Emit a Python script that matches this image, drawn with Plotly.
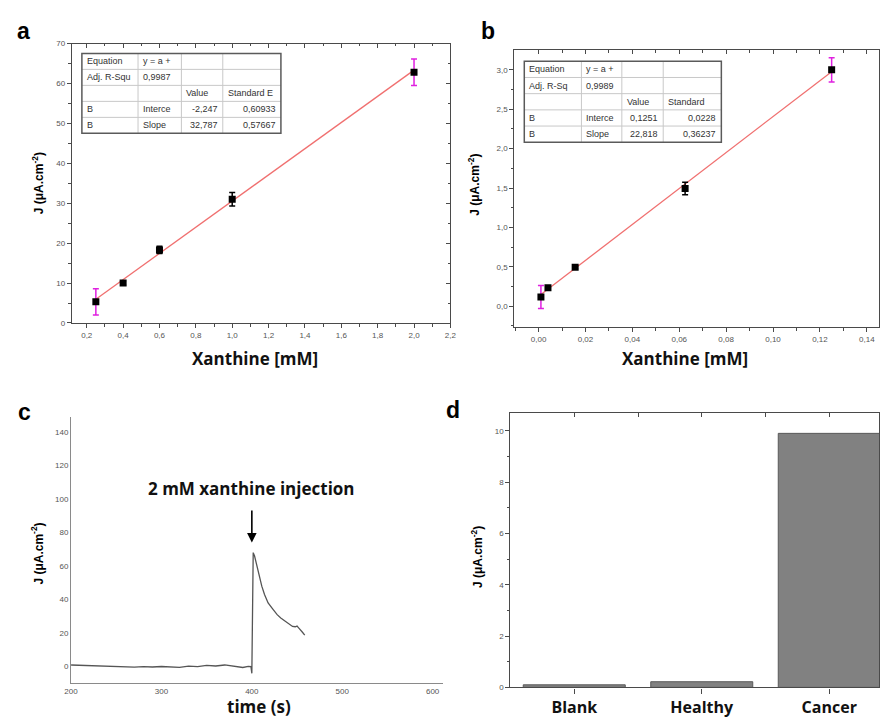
import plotly.graph_objects as go

# ---- panel a: calibration, 0.25-2 mM xanthine ----
a_conc = [0.25, 0.4, 0.6, 1.0, 2.0]
a_j = [5.3, 10.0, 18.3, 31.0, 62.8]
a_err = [3.3, 0.5, 0.9, 1.7, 3.3]
a_err_col = ["#e020e0", "black", "black", "black", "#e020e0"]
a_intercept, a_slope = -2.247, 32.787
a_table = [
    ["Equation", "y = a +", "", ""],
    ["Adj. R-Squ", "0,9987", "", ""],
    ["", "", "Value", "Standard E"],
    ["B", "Interce", "-2,247", "0,60933"],
    ["B", "Slope", "32,787", "0,57667"],
]

# ---- panel b: calibration, low concentrations ----
b_conc = [0.001, 0.004, 0.0156, 0.0625, 0.125]
b_j = [0.117, 0.235, 0.495, 1.495, 3.0]
b_err = [0.145, 0.02, 0.02, 0.08, 0.155]
b_err_col = ["#e020e0", "black", "black", "black", "#e020e0"]
b_intercept, b_slope = 0.1251, 22.818
b_table = [
    ["Equation", "y = a +", "", ""],
    ["Adj. R-Sq", "0,9989", "", ""],
    ["", "", "Value", "Standard"],
    ["B", "Interce", "0,1251", "0,0228"],
    ["B", "Slope", "22,818", "0,36237"],
]

# ---- panel c: amperometric response ----
c_time = [200, 210, 220, 230, 240, 250, 260, 270, 280, 290, 300, 310, 320, 330,
          340, 350, 360, 370, 380, 390, 396, 399, 400, 401.5, 403, 405, 408, 411,
          414, 418, 423, 428, 432, 437, 441, 445, 448, 450, 452, 454, 456, 458.5]
c_j = [1.0, 0.8, 0.9, 0.5, 0.3, 0.2, 0.0, -0.3, 0.0, -0.2, 0.1, 0.0, -0.4, 0.3,
       0.0, 0.8, 0.4, 1.0, 0.3, -0.5, 0.2, 0.0, -4.0, 68.0, 66.0, 61.0, 54.5, 48.0,
       43.0, 38.0, 34.5, 31.0, 29.0, 27.0, 25.3, 24.0, 23.8, 24.2, 23.0, 22.0, 20.5, 18.8]

# ---- panel d: samples ----
d_samples = ["Blank", "Healthy", "Cancer"]
d_j = [0.1, 0.22, 9.9]

W, H = 885, 722
SANS = "Liberation Sans, Arial"
BOLD = "Open Sans"
TICKFONT = dict(family=SANS, size=8, color="#555")
FRAME = "#4a4a4a"


def px(x0, x1):
    return [x0 / W, x1 / W]


def py(top, bottom):
    return [(H - bottom) / H, (H - top) / H]


fig = go.Figure()

# panel a
a_fit_x = [a_conc[0], a_conc[-1]]
fig.add_trace(go.Scatter(x=a_fit_x, y=[a_intercept + a_slope * v for v in a_fit_x],
                         mode="lines", line=dict(color="#f07070", width=1.3),
                         xaxis="x", yaxis="y", showlegend=False))
for xv, yv, ev, col in zip(a_conc, a_j, a_err, a_err_col):
    fig.add_trace(go.Scatter(x=[xv], y=[yv], mode="markers",
                             marker=dict(symbol="square", size=7, color="black"),
                             error_y=dict(type="data", array=[ev], color=col,
                                          thickness=1.5, width=3),
                             xaxis="x", yaxis="y", showlegend=False))

# panel b
b_fit_x = [b_conc[0], b_conc[-1]]
fig.add_trace(go.Scatter(x=b_fit_x, y=[b_intercept + b_slope * v for v in b_fit_x],
                         mode="lines", line=dict(color="#f07070", width=1.3),
                         xaxis="x2", yaxis="y2", showlegend=False))
for xv, yv, ev, col in zip(b_conc, b_j, b_err, b_err_col):
    fig.add_trace(go.Scatter(x=[xv], y=[yv], mode="markers",
                             marker=dict(symbol="square", size=7, color="black"),
                             error_y=dict(type="data", array=[ev], color=col,
                                          thickness=1.5, width=3),
                             xaxis="x2", yaxis="y2", showlegend=False))

# panel c
fig.add_trace(go.Scatter(x=c_time, y=c_j, mode="lines",
                         line=dict(color="#555", width=1.3),
                         xaxis="x3", yaxis="y3", showlegend=False))

# panel d
fig.add_trace(go.Bar(x=list(range(len(d_samples))), y=d_j, width=0.8,
                     marker=dict(color="#818181", line=dict(color="#5a5a5a", width=1)),
                     xaxis="x4", yaxis="y4", showlegend=False))

# placeholder traces so the top/right frame axes get drawn
for xa, ya in [("x5", "y"), ("x", "y5"), ("x6", "y2"), ("x7", "y4")]:
    fig.add_trace(go.Scatter(x=[None], y=[None], mode="markers", xaxis=xa, yaxis=ya,
                             showlegend=False, hoverinfo="skip"))


def main_axis(dom, anchor, rng, dtick, fmt, minor_dtick, ticks="outside"):
    ax = dict(domain=dom, anchor=anchor, range=rng, dtick=dtick, tickformat=fmt,
              showgrid=False, zeroline=False, showline=True, mirror=True,
              linecolor=FRAME, linewidth=1.3, ticks=ticks, ticklen=4,
              tickcolor=FRAME, tickwidth=1, tickfont=TICKFONT)
    if minor_dtick:
        ax["minor"] = dict(dtick=minor_dtick, ticks=ticks, ticklen=2.5,
                           tickcolor=FRAME, showgrid=False)
    return ax


def inner_axis(base, anchor, side, rng, dtick, minor_dtick, tick0=None):
    ax = dict(overlaying=base, anchor=anchor, side=side, range=rng, dtick=dtick,
              showgrid=False, zeroline=False, showline=False,
              ticks="inside", ticklen=4, tickcolor=FRAME,
              showticklabels=False, fixedrange=True)
    if tick0 is not None:
        ax["tick0"] = tick0
    if minor_dtick:
        ax["minor"] = dict(dtick=minor_dtick, ticks="inside", ticklen=2.5,
                           tickcolor=FRAME, showgrid=False)
    return ax


a_xr, a_yr = [0.119, 2.2], [0, 70]
b_xr, b_yr = [-0.0103, 0.1452], [-0.263, 3.247]
c_xr, c_yr = [200, 612], [-10, 149]
d_xr, d_yr = [-0.5, 2.39], [0, 10.7]

layout = dict(
    width=W, height=H, margin=dict(l=0, r=0, t=0, b=0),
    paper_bgcolor="white", plot_bgcolor="rgba(0,0,0,0)",
    separators=", ", showlegend=False,
    xaxis=main_axis(px(66, 450), "y", a_xr, 0.2, ".1f", 0.1),
    yaxis=main_axis(py(40, 323), "x", a_yr, 10, "d", 5),
    xaxis2=main_axis(px(515, 885), "y2", b_xr, 0.02, ".2f", 0.01),
    yaxis2=main_axis(py(47, 327), "x2", b_yr, 0.5, ".1f", 0.25),
    xaxis3=dict(domain=px(65, 443), anchor="y3", range=c_xr, dtick=100,
                showgrid=False, zeroline=False, showline=True, linecolor="#8a8a8a",
                linewidth=1.2, ticks="", tickfont=TICKFONT),
    yaxis3=dict(domain=py(418, 688), anchor="x3", range=c_yr, dtick=20,
                showgrid=False, zeroline=False, showline=True, linecolor="#8a8a8a",
                linewidth=1.2, ticks="", tickfont=TICKFONT),
    xaxis4=dict(domain=px(511, 885), anchor="y4", range=d_xr,
                tickvals=list(range(len(d_samples))),
                ticktext=[f"<b>{s}</b>" for s in d_samples], showgrid=False,
                zeroline=False, showline=True, mirror=True, linecolor=FRAME,
                linewidth=1.3, ticks="outside", ticklen=5, tickcolor=FRAME,
                tickfont=dict(family=BOLD, size=16, color="#111")),
    yaxis4=main_axis(py(414, 692), "x4", d_yr, 2, "d", 1),
    # inward ticks along the top/right frame edges
    xaxis5=inner_axis("x", "y", "top", a_xr, 0.2, 0.1),
    yaxis5=inner_axis("y", "x", "right", a_yr, 10, 5),
    xaxis6=inner_axis("x2", "y2", "top", b_xr, 0.02, 0.01),
    xaxis7=inner_axis("x4", "y4", "top", d_xr, 0.5, None, tick0=0),
)
fig.update_layout(**layout)

annotations = []


def note(text, x, y, size, family, angle=0, xanchor="center", color="black"):
    return dict(text=text, x=x / W, y=(H - y) / H, xref="paper", yref="paper",
                xanchor=xanchor, yanchor="middle", showarrow=False,
                textangle=angle, font=dict(family=family, size=size, color=color))


# fit-result tables: white body, grid lines, frame and cell texts
CELL_ALIGN = ["left", "left", "right", "right"]
for tbl, left, top, widths, row_h in [
    (a_table, 76, 50, [57, 44, 42, 59], 16.2),
    (b_table, 525, 58, [58, 41, 42, 59], 16.4),
]:
    edges = [left]
    for w in widths:
        edges.append(edges[-1] + w)
    bottom = top + row_h * len(tbl)
    y_lo, y_hi = (H - bottom) / H, (H - top) / H
    fig.add_shape(type="rect", xref="paper", yref="paper", x0=left / W,
                  x1=edges[-1] / W, y0=y_lo, y1=y_hi, fillcolor="white",
                  line=dict(width=0), layer="above")
    for e in edges[1:-1]:
        fig.add_shape(type="line", xref="paper", yref="paper", x0=e / W, x1=e / W,
                      y0=y_lo, y1=y_hi, layer="above",
                      line=dict(color="#c8c8c8", width=1))
    for r in range(1, len(tbl)):
        yy = (H - (top + r * row_h)) / H
        fig.add_shape(type="line", xref="paper", yref="paper", x0=left / W,
                      x1=edges[-1] / W, y0=yy, y1=yy, layer="above",
                      line=dict(color="#c8c8c8", width=1))
    fig.add_shape(type="rect", xref="paper", yref="paper", x0=left / W,
                  x1=edges[-1] / W, y0=y_lo, y1=y_hi, layer="above",
                  line=dict(color="#5a5a5a", width=1.5))
    for r, row in enumerate(tbl):
        yc = top + (r + 0.5) * row_h
        for c, txt in enumerate(row):
            if not txt:
                continue
            al = "left" if r == 2 else CELL_ALIGN[c]
            xa = edges[c] + 3 if al == "left" else edges[c + 1] - 3
            annotations.append(note(txt, xa, yc, 9, SANS, xanchor=al, color="#333"))

# panel letters
for letter, (lx, ly) in zip("abcd", [(17, 27), (488, 27), (18, 413), (453, 411)]):
    annotations.append(note(f"<b>{letter}</b>", lx, ly, 23, SANS))
# y titles
ytitle = "<b>J (μA.cm<sup>-2</sup>)</b>"
for tx, ty in [(31, 182), (474, 183), (31, 557), (477, 560)]:
    annotations.append(note(ytitle, tx, ty, 12, SANS, angle=-90))
# x titles
for txt, tx, ty in [("Xanthine [mM]", 252, 359), ("Xanthine [mM]", 688, 359),
                    ("time (s)", 256, 711)]:
    annotations.append(note(f"<b>{txt}</b>", tx, ty, 17, BOLD, color="#111"))
# injection marker in panel c
annotations.append(dict(text="<b>2 mM xanthine injection</b>", x=400, y=106,
                        xref="x3", yref="y3", xanchor="center", yanchor="middle",
                        showarrow=False,
                        font=dict(family=BOLD, size=17, color="#111")))
annotations.append(dict(text="", x=400, y=74, ax=400, ay=94, xref="x3", yref="y3",
                        axref="x3", ayref="y3", showarrow=True, arrowhead=2,
                        arrowsize=1.2, arrowwidth=1.6, arrowcolor="black"))
fig.update_layout(annotations=annotations)

fig.write_html("out.html")
